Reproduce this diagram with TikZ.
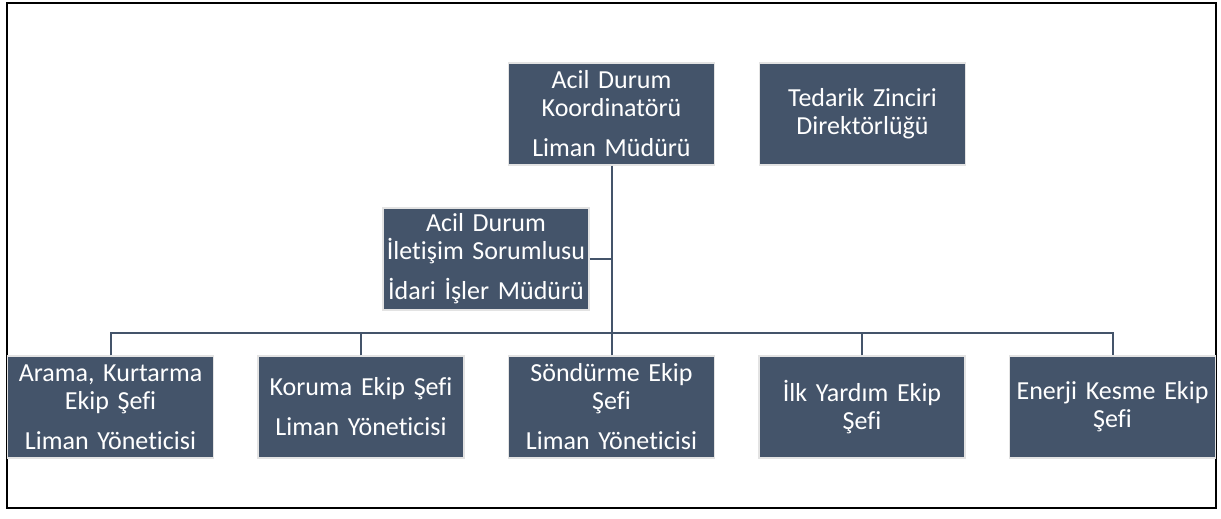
\documentclass[tikz,border=0pt]{standalone}
\usepackage{fontspec}
\setmainfont{Carlito}[Ligatures=NoCommon]
\definecolor{boxfill}{HTML}{44546A}
\definecolor{boxedge}{HTML}{E3E3E3}
\begin{document}
\begin{tikzpicture}[x=0.75pt,y=-0.75pt,
  orgbox/.style={draw=boxedge, line width=1pt, fill=boxfill, text=white,
    minimum width=206*0.75pt, minimum height=102*0.75pt, text width=206*0.75pt,
    align=center, inner sep=0pt, font=\fontsize{19.5}{21}\selectfont},
  link/.style={draw=boxfill, line width=1.5pt}]
\useasboundingbox (0,0) rectangle (1221,518);
\draw[black, line width=1.5pt] (6.7,2.8) rectangle (1215.6,508);
\node[orgbox] (coord) at (611.5,114) {Acil Durum\\Koordinatörü\\[9pt]Liman Müdürü};
\node[orgbox] (supply) at (862.5,114) {Tedarik Zinciri\\Direktörlüğü};
\node[orgbox] (comm) at (486,259) {Acil Durum\\İletişim Sorumlusu\\[9pt]İdari İşler Müdürü};
\node[orgbox] (b1) at (110.5,407) {Arama, Kurtarma\\Ekip Şefi\\[9pt]Liman Yöneticisi};
\node[orgbox] (b2) at (361,407) {Koruma Ekip Şefi\\[9pt]Liman Yöneticisi};
\node[orgbox] (b3) at (611.5,407) {Söndürme Ekip\\Şefi\\[9pt]Liman Yöneticisi};
\node[orgbox] (b4) at (862,407) {İlk Yardım Ekip\\Şefi};
\node[orgbox] (b5) at (1112.5,407) {Enerji Kesme Ekip\\Şefi};
\coordinate (bus) at (611.5,333);
\draw[link] (coord.south) -- (bus);
\draw[link] (comm.east) -- (comm.east -| coord.south);
\draw[link] (b1.north) |- (bus) -| (b5.north);
\draw[link] (b2.north) -- (b2.north |- bus);
\draw[link] (b3.north) -- (bus);
\draw[link] (b4.north) -- (b4.north |- bus);
\end{tikzpicture}
\end{document}
